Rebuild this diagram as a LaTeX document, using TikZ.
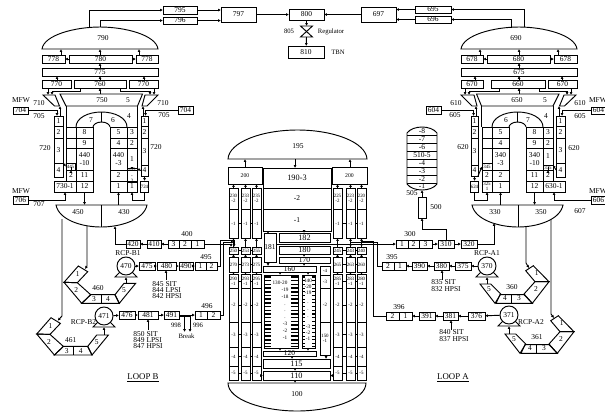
\documentclass[tikz,border=0pt]{standalone}
\usepackage{fontspec}
\setmainfont{Liberation Serif}
\usetikzlibrary{arrows.meta}

% box from its two corners: [style]{name}{x1}{y1}{x2}{y2}{text}
\newcommand{\ubox}[7][]{%
  \pgfmathsetmacro\cxp{(#3+#5)/2}\pgfmathsetmacro\cyp{(#4+#6)/2}%
  \node[box,#1,minimum width={(#5-#3)*0.75pt},minimum height={(#6-#4)*0.75pt}] (#2) at (\cxp,\cyp) {#7};}
% vertical link at a given x between two named points
\newcommand{\vlink}[3]{\draw[arr] (#3,0 |- #1) -- (#3,0 |- #2);}

% Steam generator, the right one is the left one mirrored
% {scope options}{prefix}{steam digit}{primary digit}{end of 760}{start of far 770}
\newcommand{\steamgen}[6]{%
\begin{scope}[#1]
  % Steam dome and separators
  \draw (42,49) .. controls (44,35) and (75,27) .. (100,27) .. controls (125,27) and (156,35) .. (158,49) -- cycle;
  \coordinate (#2dome) at (100,49);
  \ubox{#2a}{42}{55}{65}{63}{#378}
  \ubox{#2b}{69}{55}{132}{63}{#380}
  \ubox{#2c}{136}{55}{158}{63}{#378}
  \ubox{#2d}{42}{68}{158}{76}{#375}
  \ubox{#2e}{42}{80}{71}{88}{#370}
  \ubox{#2f}{74}{80}{#5}{88}{#360}
  \ubox{#2g}{#6}{80}{158}{88}{#370}
  \draw (60,94) -- (142.5,94) -- (137.5,106) -- (66,106) -- cycle;
  \draw (43,95) -- (55,95) -- (59.5,106) -- (54.5,106) -- cycle;
  \draw (158,95) -- (145,95) -- (142,106) -- (147,106) -- cycle;
  \draw (66,106) -- (66,127) (137.5,106) -- (137.5,127);
  \coordinate (#2top) at (100,94);
  \coordinate (#2sa) at (52,95);
  \coordinate (#2sb) at (150,95);
  \coordinate (#2sc) at (48,95);
  \coordinate (#2sd) at (154,95);
  \coordinate (#2se) at (60,106);
  \coordinate (#2sf) at (143,106);
  % U-tubes
  \draw (76,127) .. controls (76,118) and (88,112) .. (101.5,112) .. controls (115,112) and (127,118) .. (127,127);
  \draw (93,127) .. controls (93,125) and (96,122) .. (101.5,122) .. controls (107,122) and (110,125) .. (110,127);
  \draw (101.5,112) -- (101.5,122);
  \foreach \n/\ya/\yb/\t in {1/127/138/8,2/138/148/9,3/148/170/{#440\\-10},4/170/181/11,5/181/192/12}{\ubox{#2A\n}{76}{\ya}{93}{\yb}{\t}}
  \foreach \n/\ya/\yb/\t in {1/127/138/5,2/138/148/4,3/148/170/{#440\\-3},4/170/181/2,5/181/192/1}{\ubox{#2B\n}{110}{\ya}{127}{\yb}{\t}}
  % Secondary sides
  \foreach \n/\ya/\yb/\t in {1/116/126/1,2/126/138/2,3/138/163/3,4/163/177/4}{\ubox{#2s\n}{54}{\ya}{63}{\yb}{\t}}
  \foreach \n/\ya/\yb/\t in {1/116/126/1,2/126/138/2,3/138/165/3,4/165/176/4}{\ubox{#2i\n}{141}{\ya}{148}{\yb}{\t}}
  \ubox{#2m}{54}{181}{76}{192}{#330-1}
  \ubox[tinybox]{#2cold}{141}{181}{148}{192}{#324}
  \ubox{#2p704}{13}{107}{28}{114}{#304}
  \ubox{#2q704}{178}{106.5}{193}{114}{#304}
  \ubox{#2p706}{13}{196}{28}{204}{#306}
  \coordinate (#2fa) at (57,116);
  \coordinate (#2fb) at (145.5,116);
  % Hot and cold plena
  \draw (56,205) .. controls (59,220) and (82,227) .. (101,227) .. controls (120,227) and (144,220) .. (147,205) -- cycle;
  \draw (101,205) -- (101,227);
  \coordinate (#2dtop) at (101,205);
  \foreach \x/\y/\t [count=\i] in {103/38/{#390},102/100/{#350},39/103/{#310},163/103/{#310},39/116/{#305},164/115/{#305},45/148/{#320},156/147/{#320},21/100/MFW,21/191/MFW,91/120/7,113/120/6,78/212/{#450},124/212/{#430}}{\node[lbl] (#2lab\i) at (\x,\y) {\t};}
  % Links
  \vlink{#2a.north}{#2dome}{61}
  \vlink{#2b.north}{#2dome}{100}
  \vlink{#2c.north}{#2dome}{139}
  \draw[arr] (#2b) -- (#2a);
  \draw[arr] (#2b) -- (#2c);
  \vlink{#2d.north}{#2b.south}{100}
  \vlink{#2e.north}{#2d.south}{57}
  \vlink{#2f.north}{#2d.south}{100}
  \vlink{#2g.north}{#2d.south}{144}
  \vlink{#2top}{#2f.south}{100}
  \vlink{#2e.south}{#2sc}{48}
  \vlink{#2g.south}{#2sd}{154}
  \draw[arr] (80,0 |- #2f.south) -- ++(0,3) -| (#2sa);
  \draw[arr] (120,0 |- #2f.south) -- ++(0,3) -| (#2sb);
  \draw[arr] (#2p704) -| (#2fa);
  \draw[arr] (#2q704) -| (#2fb);
  \vlink{#2s1.north}{#2se}{60}
  \vlink{#2i1.north}{#2sf}{143}
  \draw[arr] (#2i4) -- (#2cold);
  \draw[arr] (#2p706) -| (#2m);
  \draw[arr] (#2A5) -- (#2A5 |- #2dtop);
  \draw[arr] (#2B5 |- #2dtop) -- (#2B5);
\end{scope}}

\begin{document}
\begin{tikzpicture}[
    x=0.75pt, y=-0.75pt,
    line width=0.7pt,
    box/.style={draw, inner sep=0pt, outer sep=0pt, align=center, font=\fontsize{5.6}{5.8}\selectfont},
    tinybox/.style={font=\fontsize{3.7}{3.9}\selectfont},
    smallbox/.style={font=\fontsize{4.3}{4.5}\selectfont},
    bigbox/.style={font=\fontsize{6.2}{6.4}\selectfont},
    lbl/.style={inner sep=0pt, align=center, font=\fontsize{5.6}{5.8}\selectfont},
    lblw/.style={lbl, anchor=west},
    note/.style={lbl, font=\fontsize{5}{5.2}\selectfont},
    tinylbl/.style={lbl, font=\fontsize{3.9}{4}\selectfont},
    pump/.style={draw, circle, inner sep=0pt, minimum size=13.5pt, font=\fontsize{5.6}{5.8}\selectfont},
    rung/.style={line width=1.1pt},
    arr/.style={-{Latex[length=2.2pt,width=2.2pt]}}
]
    \useasboundingbox (0,0) rectangle (605,412);

    % Steam lines and turbine
    \ubox{b795}{163}{6}{197}{14}{795}
    \ubox{b796}{163}{17}{197}{24}{796}
    \ubox{b797}{221}{7}{256}{22}{797}
    \ubox{b800}{289}{9}{324}{20}{800}
    \ubox{b697}{361}{7}{396}{22}{697}
    \ubox{b695}{415}{6}{451}{13}{695}
    \ubox{b696}{415}{16}{451}{23}{696}
    \ubox{b810}{288}{46}{324}{58}{810}
    \coordinate (v805t) at (306.5,26);
    \coordinate (v805b) at (306.5,37);
    \draw (300.5,26) -- (312.5,26) -- (300.5,37) -- (312.5,37) -- cycle;
    \draw[arr] (b795) -- (b797.west |- b795);
    \draw[arr] (b796) -- (b797.west |- b796);
    \draw[arr] (b797) -- (b800);
    \draw[arr] (b697) -- (b800);
    \draw[arr] (b695) -- (b697.east |- b695);
    \draw[arr] (b696) -- (b697.east |- b696);
    \draw[arr] (b800) -- (v805t);
    \draw[arr] (v805b) -- (b810);
    \node[note] (t805) at (289,31) {805};
    \node[note] (tReg) at (331,32) {Regulator};
    \node[note] (tTBN) at (338,52) {TBN};

    % Loop B steam generator
    \steamgen{}{L}{7}{4}{126}{129}
    \foreach \n/\ya/\yb in {1/127/138,2/138/148,3/148/163}{\ubox{Lc\n}{66}{\ya}{76}{\yb}{}}
    \ubox[tinybox]{Lcs}{66}{163}{75}{170}{445}
    \ubox{Lc4}{66}{170}{76}{181}{2}
    \foreach \n/\ya/\yb/\t in {1/127/138/3,2/138/148/2,3/148/170/1}{\ubox{Ld\n}{127}{\ya}{137}{\yb}{\t}}
    \ubox[tinybox]{Lds}{127}{170}{137}{181}{425\\-\\2}
    \ubox{Ld5}{127}{181}{137}{192}{1}
    \node[lbl] (t5L) at (128,100) {5};
    \node[lbl] (t4L) at (129,116) {4};
    \node[lbl] (t707) at (39,204) {707};
    \draw[arr] (Ls4.north east) -- (Lcs.west);
    \draw[arr] (Lc4) -- (Lc4 |- Lcs.south);
    \draw[arr] (Li4.west) -- (Lds.north east);
    \draw[arr] (Lds) -- (Lds |- Ld3.south);
    \draw[arr] (Lcold.south) -- ++(0,8) -| (Ld5.south);

    % Loop A steam generator
    \steamgen{shift={(619,0)},xscale=-1}{R}{6}{3}{128}{136}
    \foreach \n/\ya/\yb in {1/127/138,2/138/148,3/148/163}{\ubox{Rc\n}{482}{\ya}{492}{\yb}{}}
    \ubox[tinybox]{Rcs}{482}{163}{492}{170}{345}
    \ubox{Rc4}{482}{170}{492}{181}{2}
    \ubox[tinybox]{Rc5}{482}{181}{492}{192}{325\\1}
    \foreach \n/\ya/\yb/\t in {1/127/138/3,2/138/148/2,3/148/165/1}{\ubox{Rd\n}{543}{\ya}{553}{\yb}{\t}}
    \ubox[tinybox]{Rds}{543}{165}{553}{170}{335}
    \ubox{Rd4}{543}{170}{553}{181}{2}
    \node[lbl] (t5R) at (545,100) {5};
    \node[lbl] (t4R) at (546,116) {4};
    \node[lbl] (t607) at (580,211) {607};
    \draw[arr] (Ri4.south east) -- (Rcs.west);
    \draw[arr] (Rs4.west) -- (Rds.north east);
    \draw[arr] (Rd4) -- (Rds);
    \draw[arr] (Rcold.south) -- ++(0,8) -| (Rc5.south);

    % Steam outlets
    \coordinate (o790a) at (89,28);
    \coordinate (o790b) at (100,27);
    \coordinate (o690a) at (524,27);
    \coordinate (o690b) at (511,28);
    \draw[arr] (o790a) |- (b795);
    \draw[arr] (o790b) |- (b796);
    \draw[arr] (o690a) |- (b695);
    \draw[arr] (o690b) |- (b696);

    % Pressurizer
    \draw (407,133) .. controls (410,129) and (416,127) .. (422,127) .. controls (428,127) and (434,129) .. (437,133) -- (437,184) .. controls (434,188) and (428,190) .. (422,190) .. controls (416,190) and (410,188) .. (407,184) -- cycle;
    \foreach \y/\t [count=\i] in {131/-8,139/-7,147/-6,155/510-5,163/-4,171/-3,179/-2,186/-1}{\node[lbl] (pzr\i) at (422,\y) {\t};}
    \foreach \y in {135,143,151,159,167,175,183}{\draw (407,\y) -- (437,\y);}
    \coordinate (pzrb) at (422,190);
    \ubox{b500}{418}{197}{426}{218}{}
    \node[lbl] (t500) at (436,207) {500};
    \node[lbl] (t505) at (412,193) {505};
    \draw[arr] (b500) -- (pzrb);

    % Reactor vessel
    \draw (228,159) .. controls (229,142) and (262,130) .. (297.5,130) .. controls (333,130) and (366,142) .. (367,159) -- cycle;
    \node[lbl] (t195) at (298,146) {195};
    \coordinate (d195) at (297,159);
    \ubox[smallbox]{b200L}{228}{167}{262}{184}{200}
    \ubox[smallbox]{b200R}{332}{167}{367}{184}{200}
    \ubox[bigbox]{b190c}{263}{168}{331}{188}{190-3}
    \ubox{b190b}{263}{188}{331}{209}{-2}
    \ubox{b190a}{263}{209}{331}{231}{-1}
    \ubox{b181}{264}{233}{276}{262}{181}
    \ubox[bigbox]{b182}{279}{233}{330}{242}{182}
    \ubox[bigbox]{b180}{279}{246}{330}{254}{180}
    \ubox{b170}{279}{257}{330}{263}{170}
    \ubox{b160}{263}{266}{316}{272}{160}
    \ubox{b120}{263}{351}{316}{356}{120}
    \ubox[bigbox]{b115}{263}{359}{330}{368}{115}
    \ubox[bigbox]{b110}{263}{371}{330}{380}{110}
    \draw (228,383) -- (366,383) .. controls (366,400) and (330,411) .. (297,411) .. controls (264,411) and (228,400) .. (228,383) -- cycle;
    \node[lbl] (t100) at (297,394) {100};
    \coordinate (d100) at (295,383);
    % Core channels
    \ubox{b130}{264}{275}{298}{348}{}
    \ubox{b140}{302}{275}{315}{348}{}
    \foreach \y in {277,280.7,284.4,288.1,291.8,295.5,299.2,302.9,306.6,310.3,314,317.7,321.4,325.1,328.8,332.5,336.2,339.9,343.6,346.5}{
      \draw[rung] (264,\y) -- (271,\y) (291,\y) -- (298,\y);
      \draw[line width=0.8pt] (302,\y) -- (304.5,\y) (312,\y) -- (315,\y);
    }
    \foreach \x/\y/\t [count=\i] in {280/283/130-20,285/290/-19,285/297/-18,285/305/.,285/311/.,285/318/.,285/324/-3,285/331/-2,285/338/-1}{\node[tinylbl] (cA\i) at (\x,\y) {\t};}
    \foreach \x/\y/\t [count=\i] in {308/281/140,308/287/-20,308/293/-19,308/303/.,308/310/.,308/317/.,308/327/-3,308/333/-2,308/339/-1}{\node[tinylbl] (cB\i) at (\x,\y) {\t};}
    \foreach \n/\ya/\yb/\t in {d/266/275/-4,c/275/288/-3,b/288/322/-2,a/322/355/{150\\-1}}{\ubox[tinybox]{b150\n}{320}{\ya}{330}{\yb}{\t}}
    % Downcomer columns
    \foreach \col/\xa/\xb/\lbA/\lbC/\lbD/\lbE in {1/229/238/230/250/270/290,2/241/250/233/253/273/293,3/252/261/235/255/275/295,4/333/342/225/245/265/285,5/346/355/223/243/263/283,6/357/366/220/240/260/280}{
      \ubox[tinybox]{c\col a}{\xa}{188}{\xb}{209}{\lbA\\-2}
      \ubox[tinybox]{c\col b}{\xa}{209}{\xb}{238}{-1}
      \ubox[tinybox]{c\col c}{\xa}{247}{\xb}{254}{\lbC}
      \ubox[tinybox]{c\col d}{\xa}{257}{\xb}{272}{\lbD}
      \ubox[tinybox]{c\col e}{\xa}{274}{\xb}{288}{\lbE\\-1}
      \ubox[tinybox]{c\col f}{\xa}{288}{\xb}{322}{-2}
      \ubox[tinybox]{c\col g}{\xa}{322}{\xb}{347}{-3}
      \ubox[tinybox]{c\col h}{\xa}{347}{\xb}{366}{-4}
      \ubox[tinybox]{c\col i}{\xa}{366}{\xb}{380}{-5}
      \draw[arr] (c\col c) -- (c\col b);
      \draw[arr] (c\col d) -- (c\col c);
      \draw[arr] (c\col e) -- (c\col d);
    }
    \foreach \cola/\colb in {1/2,2/3,4/5,5/6}{
      \foreach \r in {b,c,d,e,f,g,h,i}{\draw (c\cola\r) -- (c\colb\r);}
    }
    \foreach \col in {1,2,3}{\draw[arr] (c\col a) -- (c\col a |- b200L.south);}
    \foreach \col in {4,5,6}{\draw[arr] (c\col a) -- (c\col a |- b200R.south);}
    \vlink{b200L.north}{d195}{245}
    \vlink{b200R.north}{d195}{350}
    \vlink{d195}{b190c.north}{295}
    \vlink{b181.north}{b190a.south}{268}
    \vlink{b190a.south}{b182.north}{304}
    \vlink{b180.south}{b170.north}{304}
    \vlink{b170.south}{b160.north}{304}
    \vlink{b181.south}{b160.north}{268}
    \vlink{b160.south}{b130.north}{280}
    \vlink{b160.south}{b140.north}{308}
    \vlink{b130.south}{b120.north}{280}
    \vlink{b140.south}{b120.north}{308}
    \vlink{b120.south}{b115.north}{292}
    \vlink{b150a.south}{b115.north}{326}
    \vlink{b115.south}{b110.north}{295}
    \vlink{b110.south}{d100}{295}
    \draw[arr] (c3i.east |- b110) -- (b110);
    \draw[arr] (c4i.west |- b110) -- (b110);

    % Loop B piping
    \ubox{b420}{126}{240}{140}{248}{420}
    \ubox{b410}{147}{240}{161}{248}{410}
    \ubox{b403}{168}{240}{179}{248}{3}
    \ubox{b402}{179}{240}{191}{248}{2}
    \ubox{b401}{191}{240}{204}{248}{1}
    \ubox{b475}{139}{262}{155}{270}{475}
    \ubox{b480}{157}{262}{176}{270}{480}
    \ubox{b490}{179}{262}{193}{270}{490}
    \ubox{b4951}{195}{262}{206}{270}{1}
    \ubox{b4952}{206}{262}{217}{270}{2}
    \ubox{b476}{119}{311}{135}{319}{476}
    \ubox{b481}{138}{311}{158}{319}{481}
    \ubox{b491}{164}{311}{179}{319}{491}
    \ubox{b4961}{195}{311}{207}{319}{1}
    \ubox{b4962}{207}{311}{220}{319}{2}

    % Loop A piping
    \ubox{b301}{396}{240}{408}{248}{1}
    \ubox{b302}{408}{240}{419}{248}{2}
    \ubox{b303}{419}{240}{432}{248}{3}
    \ubox{b310}{438}{240}{454}{248}{310}
    \ubox{b320}{461}{240}{477}{248}{320}
    \ubox{b3952}{382}{262}{394}{270}{2}
    \ubox{b3951}{394}{262}{406}{270}{1}
    \ubox{b390}{412}{262}{427}{270}{390}
    \ubox{b380}{434}{262}{449}{270}{380}
    \ubox{b375}{455}{262}{471}{270}{375}
    \ubox{b3962}{386}{312}{399}{320}{2}
    \ubox{b3961}{399}{312}{412}{320}{1}
    \ubox{b391}{419}{312}{435}{320}{391}
    \ubox{b381}{443}{312}{458}{320}{381}
    \ubox{b376}{468}{312}{485}{320}{376}

    % Pumps
    \foreach \n/\x/\y in {470/126/266,471/104/316,370/487/266,371/509/315}{
      \node[pump] (p\n) at (\x,\y) {\n};
      \coordinate (pb\n) at (\x,\y+11);
      \draw ({\x-6},{\y+6}) -- ({\x-11},{\y+11}) -- ({\x+11},{\y+11}) -- ({\x+6},{\y+6});
    }

    % Loop B suction legs
    \foreach \n/\dx/\dy in {460/0/0,461/-27.3/51.7}{
      \begin{scope}[shift={(\dx,\dy)}]
        \draw (78.3,266) -- (87.7,271.7) -- (77.3,282.7) -- (64,282.3) -- cycle;
        \draw (64,282.3) -- (77.3,282.7) -- (90.7,294.7) -- (81.7,303.3) -- cycle;
        \draw (81.7,303.3) -- (90.7,294.7) -- (115,294.7) -- (119.3,303.3) -- cycle;
        \draw (101,294.7) -- (101,303.3);
        \draw (115,294.7) -- (119.3,303.3) -- (135.7,283.3) -- (124,283.3) -- cycle;
        \coordinate (in\n) at (85,269);
        \coordinate (top\n) at (128,283.3);
        \foreach \x/\y/\t [count=\i] in {77.7/274/1,76.3/290/2,94/299/3,108/299/4,124/290/5,98/288.5/\n}{\node[lbl] (leg\n\i) at (\x,\y) {\t};}
      \end{scope}
    }
    % Loop A suction legs
    \foreach \n/\dx/\dy in {360/0/0,361/25/50}{
      \begin{scope}[shift={(\dx,\dy)}]
        \draw (533.3,265.7) -- (525.7,270.7) -- (535,281.7) -- (549,281.7) -- cycle;
        \draw (549,281.7) -- (535,281.7) -- (524,294) -- (532.3,303.3) -- cycle;
        \draw (496,303.3) -- (532.3,303.3) -- (524,294.7) -- (500,294.7) -- cycle;
        \draw (511.7,294.7) -- (511.7,303.3);
        \draw (480,284) -- (490.7,284) -- (500.7,294) -- (495,303.3) -- cycle;
        \coordinate (in\n) at (529,268);
        \coordinate (top\n) at (486,284);
        \foreach \x/\y/\t [count=\i] in {536.7/273/1,536/289/2,519/298.5/3,505/298.5/4,489/289/5,512/287.5/\n}{\node[lbl] (leg\n\i) at (\x,\y) {\t};}
      \end{scope}
    }

    % Loop B links
    \coordinate (o450a) at (87,226);
    \coordinate (o450b) at (62,219);
    \coordinate (o430a) at (115,226);
    \coordinate (j461) at (62,316);
    \coordinate (j460) at (87,266);
    \draw[arr] (o450a) -- (j460) -- (in460);
    \draw[arr] (o450b) -- (j461) -- (in461);
    \draw[arr] (b420) -| (o430a);
    \draw[arr] (b410) -- (b420);
    \draw[arr] (b403) -- (b410);
    \draw[arr] (p470) -- (b475);
    \draw[arr] (b475) -- (b480);
    \draw[arr] (b480) -- (b490);
    \draw[arr] (b490) -- (b4951);
    \draw[arr] (pb470 |- top460) -- (pb470);
    \draw[arr] (pb471 |- top461) -- (pb471);
    \draw[arr] (p471) -- (b476);
    \draw[arr] (b476) -- (b481);
    \draw[arr] (b481) -- (b491);
    % Break
    \coordinate (brkA) at (184.5,332);
    \coordinate (brkB) at (190,332);
    \draw[arr] (b491.east |- b491.south) ++(0,-3) -| (brkA);
    \draw[arr] (b491.east |- b491.south) ++(0,-3) -| (brkB);
    \draw[arr] (b491.east) -- (b4961.west);
    % Into the vessel
    \coordinate (j401) at (231,244);
    \draw[arr] (b401) -- (j401) -- (j401 |- c1c.north);
    \coordinate (j495) at (220,240);
    \coordinate (j496) at (223,242);
    \coordinate (j250) at (234,241);
    \draw[arr] (b4952) -| (j495) -- (j495 -| j250) -- (j250 |- c1c.north);
    \draw[arr] (b4962) -| (j496) -- (j496 -| j250);

    % Loop A links
    \coordinate (o350a) at (526,226);
    \coordinate (o350b) at (551,220);
    \coordinate (o330a) at (494,223);
    \coordinate (j360) at (526,263);
    \coordinate (j361) at (551,314);
    \draw[arr] (o350a) -- (j360) -- (in360);
    \draw[arr] (o350b) -- (j361) -- (in361);
    \draw[arr] (b320) -| (o330a);
    \draw[arr] (b310) -- (b320);
    \draw[arr] (b303) -- (b310);
    \coordinate (pres) at (446,229);
    \draw[arr] (b310) -- (pres) -| (b500);
    \draw[arr] (b181.east |- b301) -- (b301);
    \draw[arr] (p370) -- (b375);
    \draw[arr] (b375) -- (b380);
    \draw[arr] (b380) -- (b390);
    \draw[arr] (b390) -- (b3951);
    \draw[arr] (pb370 |- top360) -- (pb370);
    \draw[arr] (pb371 |- top361) -- (pb371);
    \draw[arr] (p371) -- (b376);
    \draw[arr] (b376) -- (b381);
    \draw[arr] (b381) -- (b391);
    \draw[arr] (b391) -- (b3961);
    \coordinate (j395) at (377,242.5);
    \coordinate (j396) at (373,241);
    \draw[arr] (b3952) -| (j395) -- (j395 -| c5c) -- (c5c);
    \draw[arr] (b3962) -| (j396) -- (j396 -| c6c) -- (c6c);

    % Sources and labels
    \foreach \x/\y/\t [count=\i] in {187/234/400,128/253/RCP-B1,206/257/495,83.5/322/RCP-B2,207/306/496,410/234/300,392/257/395,487/253/RCP-A1,399/307/396,531/322/RCP-A2}{\node[lbl] (top\i) at (\x,\y) {\t};}
    \foreach \x/\y/\t [count=\i] in {152/284/845 SIT,152/290/844 LPSI,152/296/842 HPSI,133/334/850 SIT,133/340/849 LPSI,133/346/847 HPSI,431/282/835 SIT,431/289/832 HPSI,439/332/840 SIT,439/339/837 HPSI}{\node[lblw] (src\i) at (\x,\y) {\t};}
    \foreach \x/\y/\t [count=\i] in {176/325/998,198/325/996,186.5/336.5/Break}{\node[note] (brk\i) at (\x,\y) {\t};}
    \coordinate (a845) at (166,280);
    \coordinate (a850) at (148,330);
    \coordinate (a835) at (442,280);
    \coordinate (a840) at (451,330);
    \draw[arr] (a845) -- (a845 |- b480.south);
    \draw[arr] (a850) -- (a850 |- b481.south);
    \draw[arr] (a835) -- (a835 |- b380.south);
    \draw[arr] (a840) -- (a840 |- b381.south);
    \node[lbl, font=\fontsize{6.6}{7}\selectfont] (loopB) at (143,378) {\underline{LOOP B}};
    \node[lbl, font=\fontsize{6.6}{7}\selectfont] (loopA) at (453,378) {\underline{LOOP A}};
\end{tikzpicture}
\end{document}
